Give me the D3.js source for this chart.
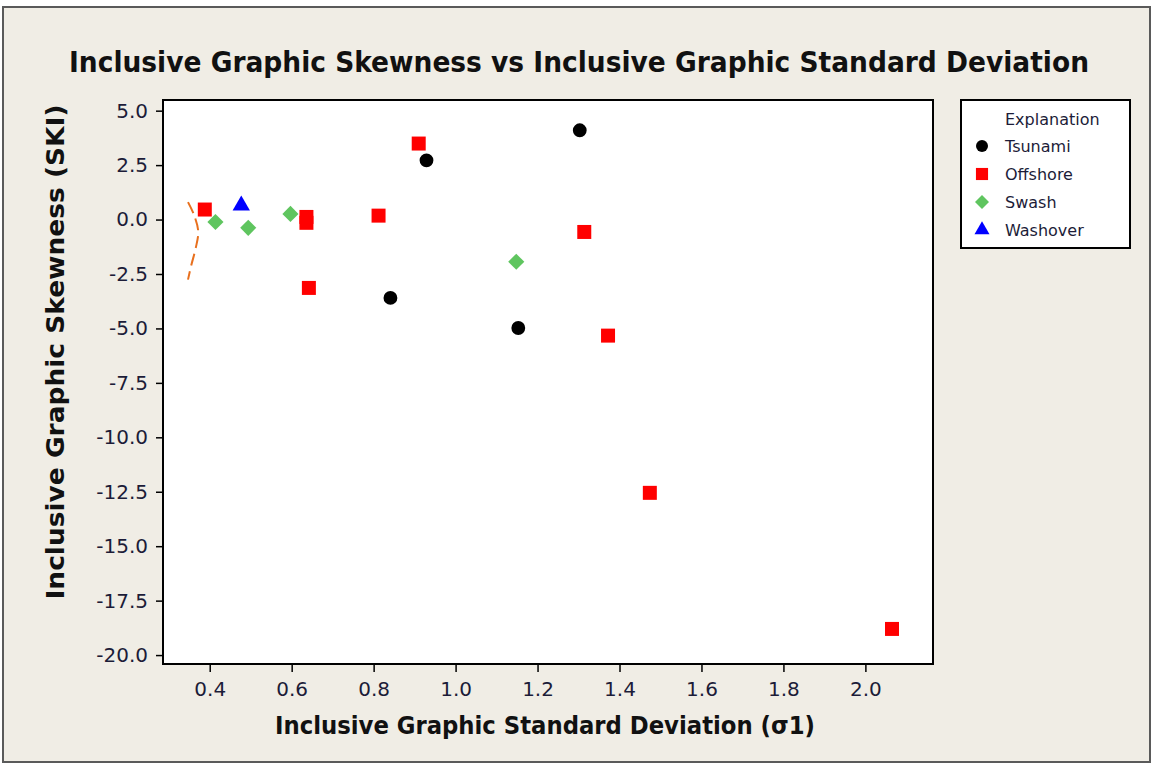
<!DOCTYPE html>
<html>
  <head>
    <meta http-equiv="Content-type" content="text/html; charset=utf-8">
    <title>Inclusive Graphic Skewness vs Inclusive Graphic Standard Deviation</title>
    <script src="https://d3js.org/d3.v7.min.js"></script>
    <style>
      body { margin: 0; background: #fff; }
      text { font-family: "DejaVu Sans", sans-serif; }
    </style>
  </head>
  <body>
    <div id="chart"></div>
    <script type="text/javascript">
      // values
      var tsunamiX = [0.841, 0.929, 1.153, 1.303];
      var tsunamiY = [-3.60, 2.72, -4.98, 4.10];
      var offshoreX = [0.388, 0.636, 0.636, 0.642, 0.812, 0.910, 1.314, 1.372, 1.474, 2.065];
      var offshoreY = [0.46, 0.12, -0.15, -3.14, 0.18, 3.49, -0.57, -5.33, -12.55, -18.80];
      var swashX = [0.414, 0.494, 0.597, 1.148];
      var swashY = [-0.11, -0.38, 0.26, -1.94];
      var washoverX = [0.477];
      var washoverY = [0.64];

      var xTicks = [0.4, 0.6, 0.8, 1.0, 1.2, 1.4, 1.6, 1.8, 2.0];
      var yTicks = [5, 2.5, 0, -2.5, -5, -7.5, -10, -12.5, -15, -17.5, -20];

      // hand-drawn bracket next to the left points
      var bracketX = [0.347, 0.362, 0.372, 0.366, 0.355, 0.347];
      var bracketY = [0.80, 0.20, -0.55, -1.30, -2.10, -2.76];

      var seriesNames = ["Tsunami", "Offshore", "Swash", "Washover"];

      var width = 1156,
        height = 767;
      var plotL = 163, plotR = 933, plotT = 100, plotB = 664;

      var x = d3.scaleLinear().domain([0.286, 2.165]).range([plotL, plotR]);
      var y = d3.scaleLinear().domain([-20.41, 5.49]).range([plotB, plotT]);

      // plain hyphen for negatives, like the original
      var fmt = function(d) { return d3.format(".1f")(d).replace("\u2212", "-"); };

      var svg = d3.select("#chart").append("svg")
        .attr("width", width)
        .attr("height", height);

      // outer panel
      svg.append("rect")
        .attr("x", 3).attr("y", 7)
        .attr("width", 1147).attr("height", 755)
        .attr("fill", "#f0ede5")
        .attr("stroke", "#5a5a5a")
        .attr("stroke-width", 2);

      // plot area
      svg.append("rect")
        .attr("x", plotL).attr("y", plotT)
        .attr("width", plotR - plotL).attr("height", plotB - plotT)
        .attr("fill", "#ffffff");

      var labelColor = "#1c1c38";

      // axes
      var xAxis = d3.axisBottom(x)
        .tickValues(xTicks)
        .tickFormat(fmt)
        .tickSizeInner(8)
        .tickSizeOuter(0);

      var gx = svg.append("g")
        .attr("transform", "translate(0," + plotB + ")")
        .call(xAxis);
      gx.select(".domain").remove();
      gx.selectAll("line").attr("stroke", "#000").attr("stroke-width", 1.5);
      gx.selectAll("text")
        .attr("y", 18)
        .style("font-size", "20px")
        .style("font-family", "DejaVu Sans, sans-serif")
        .attr("fill", labelColor);

      var yAxis = d3.axisLeft(y)
        .tickValues(yTicks)
        .tickFormat(fmt)
        .tickSizeInner(7)
        .tickSizeOuter(0);

      var gy = svg.append("g")
        .attr("transform", "translate(" + plotL + ",0)")
        .call(yAxis);
      gy.select(".domain").remove();
      gy.selectAll("line").attr("stroke", "#000").attr("stroke-width", 1.5);
      gy.selectAll("text")
        .attr("x", -15)
        .style("font-size", "20px")
        .style("font-family", "DejaVu Sans, sans-serif")
        .attr("fill", labelColor);

      // frame
      svg.append("rect")
        .attr("x", plotL).attr("y", plotT)
        .attr("width", plotR - plotL).attr("height", plotB - plotT)
        .attr("fill", "none")
        .attr("stroke", "#000")
        .attr("stroke-width", 2);

      // bracket
      var bracket = d3.line()
        .x(function(d) { return x(d[0]); })
        .y(function(d) { return y(d[1]); })
        .curve(d3.curveCatmullRom);
      svg.append("path")
        .attr("d", bracket(d3.zip(bracketX, bracketY)))
        .attr("fill", "none")
        .attr("stroke", "#e8701e")
        .attr("stroke-width", 2)
        .attr("stroke-dasharray", "12,6");

      var symbols = {
        Tsunami: { type: d3.symbolCircle, size: 150, color: "#000000", rot: 0 },
        Offshore: { type: d3.symbolSquare, size: 196, color: "#ff0000", rot: 0 },
        Swash: { type: d3.symbolSquare, size: 130, color: "#5fc55f", rot: 45 },
        Washover: { type: d3.symbolTriangle, size: 130, color: "#0000ff", rot: 0 }
      };

      function drawSeries(name, xs, ys) {
        var s = symbols[name];
        svg.append("g").selectAll("path")
          .data(d3.zip(xs, ys))
          .enter().append("path")
          .attr("d", d3.symbol().type(s.type).size(s.size))
          .attr("transform", function(d) {
            return "translate(" + x(d[0]) + "," + y(d[1]) + ") rotate(" + s.rot + ")";
          })
          .attr("fill", s.color);
      }

      drawSeries("Offshore", offshoreX, offshoreY);
      drawSeries("Swash", swashX, swashY);
      drawSeries("Washover", washoverX, washoverY);
      drawSeries("Tsunami", tsunamiX, tsunamiY);

      // title
      svg.append("text")
        .attr("x", 579).attr("y", 72)
        .attr("text-anchor", "middle")
        .attr("textLength", 1020)
        .attr("lengthAdjust", "spacingAndGlyphs")
        .style("font-size", "29px")
        .style("font-weight", "bold")
        .attr("fill", "#111")
        .text("Inclusive Graphic Skewness vs Inclusive Graphic Standard Deviation");

      // axis titles
      svg.append("text")
        .attr("x", 545).attr("y", 734)
        .attr("text-anchor", "middle")
        .attr("textLength", 540)
        .attr("lengthAdjust", "spacingAndGlyphs")
        .style("font-size", "24px")
        .style("font-weight", "bold")
        .attr("fill", "#111")
        .text("Inclusive Graphic Standard Deviation (\u03c31)");

      svg.append("text")
        .attr("transform", "translate(64,352) rotate(-90)")
        .attr("text-anchor", "middle")
        .attr("textLength", 495)
        .attr("lengthAdjust", "spacingAndGlyphs")
        .style("font-size", "24px")
        .style("font-weight", "bold")
        .attr("fill", "#111")
        .text("Inclusive Graphic Skewness (SKI)");

      // legend
      var lg = svg.append("g");
      lg.append("rect")
        .attr("x", 961).attr("y", 100)
        .attr("width", 169).attr("height", 148)
        .attr("fill", "#ffffff")
        .attr("stroke", "#000")
        .attr("stroke-width", 2);
      lg.append("text")
        .attr("x", 1005).attr("y", 125)
        .style("font-size", "16px")
        .attr("fill", labelColor)
        .text("Explanation");

      var item = lg.selectAll("g.item")
        .data(seriesNames)
        .enter().append("g")
        .attr("class", "item")
        .attr("transform", function(d, i) {
          return "translate(0," + (146 + i * 28) + ")";
        });
      item.append("path")
        .attr("d", function(d) {
          return d3.symbol().type(symbols[d].type).size(symbols[d].size * 0.75)();
        })
        .attr("transform", function(d) {
          return "translate(982,0) rotate(" + symbols[d].rot + ")";
        })
        .attr("fill", function(d) { return symbols[d].color; });
      item.append("text")
        .attr("x", 1005).attr("y", 6)
        .style("font-size", "16px")
        .attr("fill", labelColor)
        .text(function(d) { return d; });
    </script>
  </body>
</html>
